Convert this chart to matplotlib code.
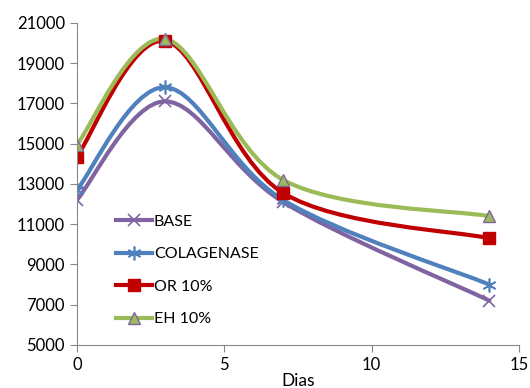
import matplotlib
matplotlib.use('Agg')
import matplotlib.pyplot as plt
from matplotlib.path import Path
from matplotlib.patches import PathPatch
from matplotlib.lines import Line2D

plt.rcParams['font.family'] = ['Lato', 'DejaVu Sans']

dias = [0, 3, 7, 14]
base = [12200, 17100, 12100, 7200]
colagenase = [12700, 17800, 12200, 8000]
or10 = [14350, 20100, 12550, 10300]
eh10 = [14950, 20200, 13200, 11400]

series_names = ['BASE', 'COLAGENASE', 'OR 10%', 'EH 10%']
series_values = [base, colagenase, or10, eh10]
colors = ['#8064A2', '#4F81BD', '#C00000', '#9BBB59']
markers = ['x', (6, 2, 0), 's', '^']
edge_colors = ['#8064A2', '#4F81BD', '#C00000', '#8064A2']
marker_sizes = [9, 10, 9, 9]


# smoothed line through the points (cubic bezier, catmull-rom style control points)
def smooth_path(xs, ys):
    pts = list(zip(xs, ys))
    verts = [pts[0]]
    codes = [Path.MOVETO]
    n = len(pts)
    for i in range(n - 1):
        p0 = pts[i - 1] if i > 0 else pts[i]
        p1 = pts[i]
        p2 = pts[i + 1]
        p3 = pts[i + 2] if i + 2 < n else pts[i + 1]
        c1 = (p1[0] + (p2[0] - p0[0]) / 6, p1[1] + (p2[1] - p0[1]) / 6)
        c2 = (p2[0] - (p3[0] - p1[0]) / 6, p2[1] - (p3[1] - p1[1]) / 6)
        verts += [c1, c2, p2]
        codes += [Path.CURVE4] * 3
    return Path(verts, codes)


fig = plt.figure(figsize=(5.3, 3.88), dpi=100)
ax = fig.add_axes([0.145, 0.111, 0.834, 0.830])

handles = []
for name, vals, c, m, ec, ms in zip(series_names, series_values, colors, markers, edge_colors, marker_sizes):
    mew = 1.2 if m in ('x', (6, 2, 0)) else 1
    ax.add_patch(PathPatch(smooth_path(dias, vals), facecolor='none', edgecolor=c, lw=3, capstyle='round'))
    ax.plot(dias, vals, linestyle='none', marker=m, color=c, markersize=ms,
            markeredgecolor=ec, markeredgewidth=mew)
    handles.append(Line2D([], [], color=c, lw=3, marker=m, markersize=ms,
                          markeredgecolor=ec, markeredgewidth=mew))

ax.set_xlim(0, 15)
ax.set_ylim(5000, 21000)
ax.set_xticks(range(0, 16, 5))
ax.set_yticks(range(5000, 21001, 2000))

for s in ['top', 'right']:
    ax.spines[s].set_visible(False)
for s in ['left', 'bottom']:
    ax.spines[s].set_color('#888888')
ax.tick_params(axis='both', colors='#888888', labelcolor='black', labelsize=12, direction='out', length=5)

ax.set_xlabel('Dias', fontsize=12.5, labelpad=0)

ax.legend(handles, series_names, loc='upper left', bbox_to_anchor=(0.075, 0.425), frameon=False,
          fontsize=11.5, handlelength=2.25, handletextpad=0.1, labelspacing=1.15, borderaxespad=0)

fig.savefig('out.png', dpi=100)
